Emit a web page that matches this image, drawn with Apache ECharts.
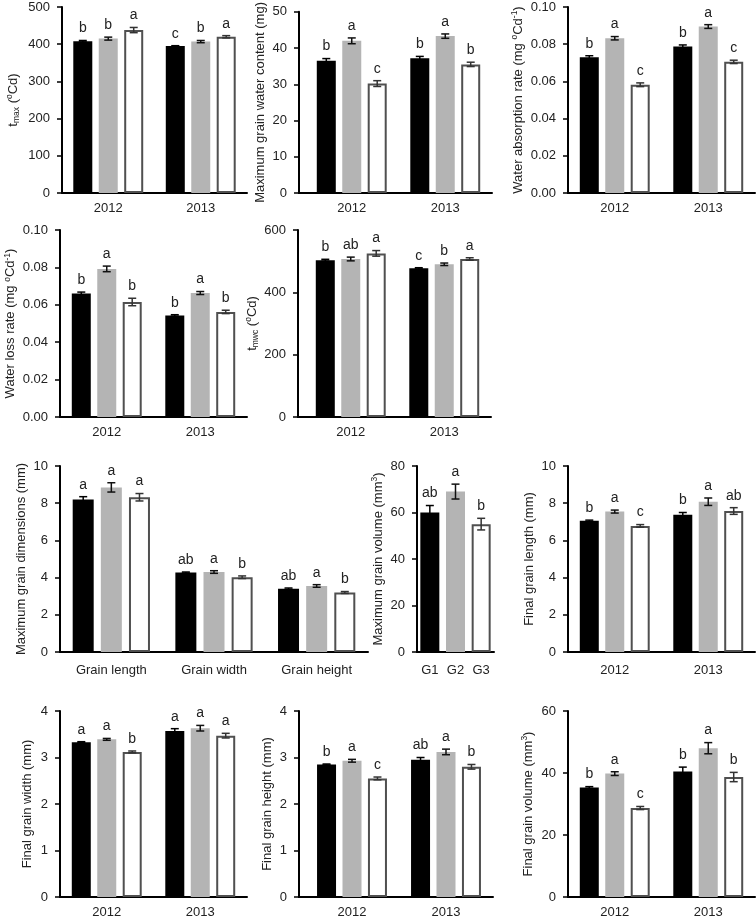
<!DOCTYPE html>
<html><head><meta charset="utf-8">
<script src="https://cdn.jsdelivr.net/npm/echarts@6/dist/echarts.min.js"></script>
<style>html,body{margin:0;padding:0;background:#fff}#c{width:756px;height:919px}</style>
</head><body><div id="c"></div>
<script>
// ---------- DATA (values per genotype G1, G2, G3; each listing the categories) ----------
const years = ['2012', '2013'];
const dims = ['Grain length', 'Grain width', 'Grain height'];
const genotypes = ['G1', 'G2', 'G3'];

const tmaxMean = [[408, 395], [415, 407], [438, 420]];
const tmaxErr = [[2, 1], [4, 3], [7, 3]];
const tmaxLetters = [['b', 'c'], ['b', 'b'], ['a', 'a']];

const mwcMean = [[36.5, 37.2], [42.0, 43.3], [30.2, 35.5]];
const mwcErr = [[0.6, 0.5], [0.8, 0.6], [0.8, 0.6]];
const mwcLetters = [['b', 'b'], ['a', 'a'], ['c', 'b']];

const absMean = [[0.0730, 0.0788], [0.0832, 0.0895], [0.0582, 0.0705]];
const absErr = [[0.0008, 0.0008], [0.0009, 0.0010], [0.0010, 0.0009]];
const absLetters = [['b', 'b'], ['a', 'a'], ['c', 'c']];

const lossMean = [[0.0660, 0.0543], [0.0792, 0.0663], [0.0615, 0.0562]];
const lossErr = [[0.0008, 0.0004], [0.0015, 0.0008], [0.0020, 0.0009]];
const lossLetters = [['b', 'b'], ['a', 'a'], ['b', 'b']];

const tmwcMean = [[503, 477], [507, 490], [525, 507]];
const tmwcErr = [[3, 2], [6, 4], [9, 4]];
const tmwcLetters = [['b', 'c'], ['ab', 'b'], ['a', 'a']];

const maxDimMean = [[8.20, 4.27, 3.40], [8.85, 4.30, 3.55], [8.32, 4.02, 3.20]];
const maxDimErr = [[0.15, 0.03, 0.04], [0.25, 0.07, 0.07], [0.20, 0.07, 0.05]];
const maxDimLetters = [['a', 'ab', 'ab'], ['a', 'a', 'a'], ['a', 'b', 'b']];

const maxVolMean = [60, 69, 55];
const maxVolErr = [3, 3.2, 2.5];
const maxVolLetters = ['ab', 'a', 'b'];

const lenMean = [[7.05, 7.38], [7.55, 8.08], [6.78, 7.58]];
const lenErr = [[0.04, 0.12], [0.08, 0.20], [0.07, 0.18]];
const lenLetters = [['b', 'b'], ['a', 'a'], ['c', 'ab']];

const widMean = [[3.33, 3.57], [3.39, 3.63], [3.12, 3.47]];
const widErr = [[0.01, 0.05], [0.02, 0.06], [0.02, 0.05]];
const widLetters = [['a', 'a'], ['a', 'a'], ['b', 'a']];

const hgtMean = [[2.85, 2.95], [2.93, 3.12], [2.55, 2.80]];
const hgtErr = [[0.01, 0.05], [0.03, 0.06], [0.03, 0.05]];
const hgtLetters = [['b', 'ab'], ['a', 'a'], ['c', 'b']];

const volMean = [[35.3, 40.5], [39.8, 48.0], [28.7, 38.7]];
const volErr = [[0.3, 1.4], [0.6, 1.8], [0.5, 1.5]];
const volLetters = [['b', 'b'], ['a', 'a'], ['c', 'b']];

// ---------- STYLE / LAYOUT ----------
const FONT = '"Liberation Sans", Arial, Helvetica, sans-serif';
const TXT = '#222';
const barStyles = [
  { color: '#000000' },
  { color: '#b4b4b4' },
  { color: '#ffffff', borderColor: '#505050', borderWidth: 2 }
];
const errColors = ['#000', '#111', '#333'];
const nameRich = {
  n: { fontSize: 13, lineHeight: 16, fontFamily: FONT, color: TXT },
  sub: { fontSize: 8.5, lineHeight: 8, verticalAlign: 'bottom', fontFamily: FONT, color: TXT },
  sup: { fontSize: 8.5, lineHeight: 8, verticalAlign: 'top', fontFamily: FONT, color: TXT }
};

const panels = [
  { grid: { left: 62, top: 7, width: 185, height: 186 }, cats: years, mean: tmaxMean, err: tmaxErr, letters: tmaxLetters,
    max: 500, interval: 100, dec: 0, name: '{n|t}{sub|max}{n| (}{sup|o}{n|Cd)}', nameGap: 41 },
  { grid: { left: 305, top: 7, width: 187, height: 186 }, yOff: 6, cats: years, mean: mwcMean, err: mwcErr, letters: mwcLetters,
    max: 50, interval: 10, dec: 0, name: '{n|Maximum grain water content (mg)}', nameGap: 26 },
  { grid: { left: 568, top: 7, width: 187, height: 186 }, cats: years, mean: absMean, err: absErr, letters: absLetters,
    max: 0.1, interval: 0.02, dec: 2, name: '{n|Water absorption rate (mg }{sup|o}{n|Cd}{sup|-1}{n|)}', nameGap: 42 },
  { grid: { left: 60, top: 230, width: 187, height: 187 }, cats: years, mean: lossMean, err: lossErr, letters: lossLetters,
    max: 0.1, interval: 0.02, dec: 2, name: '{n|Water loss rate (mg }{sup|o}{n|Cd}{sup|-1}{n|)}', nameGap: 41 },
  { grid: { left: 304, top: 230, width: 187, height: 187 }, yOff: 6, cats: years, mean: tmwcMean, err: tmwcErr, letters: tmwcLetters,
    max: 600, interval: 200, dec: 0, name: '{n|t}{sub|mwc}{n| (}{sup|o}{n|Cd)}', nameGap: 25 },
  { grid: { left: 60, top: 466, width: 308, height: 186 }, xMargin: 12, cats: dims, mean: maxDimMean, err: maxDimErr, letters: maxDimLetters,
    max: 10, interval: 2, dec: 0, name: '{n|Maximum grain dimensions (mm)}', nameGap: 26, barWidth: 21 },
  { grid: { left: 417, top: 466, width: 77, height: 186 }, xMargin: 12, single: true, cats: genotypes, mean: maxVolMean, err: maxVolErr, letters: maxVolLetters,
    max: 80, interval: 20, dec: 0, name: '{n|Maximum grain volume (mm}{sup|3}{n|)}', nameGap: 31 },
  { grid: { left: 568, top: 466, width: 187, height: 186 }, xMargin: 12, cats: years, mean: lenMean, err: lenErr, letters: lenLetters,
    max: 10, interval: 2, dec: 0, name: '{n|Final grain length (mm)}', nameGap: 27 },
  { grid: { left: 60, top: 711, width: 187, height: 186 }, cats: years, mean: widMean, err: widErr, letters: widLetters,
    max: 4, interval: 1, dec: 0, name: '{n|Final grain width (mm)}', nameGap: 25 },
  { grid: { left: 305, top: 711, width: 188, height: 186 }, yOff: 6, cats: years, mean: hgtMean, err: hgtErr, letters: hgtLetters,
    max: 4, interval: 1, dec: 0, name: '{n|Final grain height (mm)}', nameGap: 17 },
  { grid: { left: 568, top: 711, width: 187, height: 186 }, cats: years, mean: volMean, err: volErr, letters: volLetters,
    max: 60, interval: 20, dec: 0, name: '{n|Final grain volume (mm}{sup|3}{n|)}', nameGap: 32 }
];

const grids = [], xAxes = [], yAxes = [], series = [], graphics = [];

function errSeries(gi, meanArr, errArr, letterArr, offset, colorFn) {
  return {
    type: 'custom', xAxisIndex: gi, yAxisIndex: gi, z: 5, silent: true,
    data: meanArr.map((m, i) => [i, m, errArr[i]]),
    renderItem(params, api) {
      const ci = api.value(0), m = api.value(1), e = api.value(2);
      const t = api.coord([ci, m + e]);
      const b = api.coord([ci, m - e]);
      const x = t[0] + offset;
      const hw = 4;
      const st = { stroke: colorFn(params.dataIndex), lineWidth: 1.5, fill: null };
      return {
        type: 'group',
        children: [
          { type: 'line', shape: { x1: x, y1: t[1], x2: x, y2: b[1] }, style: st },
          { type: 'line', shape: { x1: x - hw, y1: t[1], x2: x + hw, y2: t[1] }, style: st },
          { type: 'line', shape: { x1: x - hw, y1: b[1], x2: x + hw, y2: b[1] }, style: st },
          { type: 'text', x: x, y: t[1] - 5,
            style: { text: letterArr[params.dataIndex], align: 'center', verticalAlign: 'bottom',
                     font: '14px ' + FONT, fill: TXT } }
        ]
      };
    }
  };
}

panels.forEach((p, gi) => {
  grids.push(Object.assign({ containLabel: false }, p.grid));
  xAxes.push({
    type: 'category', gridIndex: gi, data: p.cats,
    axisLine: { lineStyle: { color: '#000', width: 2 } },
    axisTick: { show: false },
    axisLabel: { color: TXT, fontSize: 13, fontFamily: FONT, margin: p.xMargin || 9, interval: 0 },
    splitLine: { show: false }
  });
  yAxes.push({
    type: 'value', gridIndex: gi, min: 0, max: p.max, interval: p.interval, offset: p.yOff || 0,
    name: p.name, nameLocation: 'middle', nameRotate: 90, nameGap: p.nameGap,
    nameTextStyle: { fontSize: 13, lineHeight: 16, fontFamily: FONT, color: TXT, rich: nameRich },
    axisLine: { show: true, lineStyle: { color: '#000', width: 2 } },
    axisTick: { show: true, length: 5, lineStyle: { color: '#000', width: 1.5 } },
    axisLabel: { color: TXT, fontSize: 13, fontFamily: FONT, margin: 12,
                 formatter: v => v.toFixed(p.dec) },
    splitLine: { show: false }
  });
  if (p.yOff) {
    const yb = p.grid.top + p.grid.height;
    graphics.push({ type: 'line', shape: { x1: p.grid.left - p.yOff - 1, y1: yb, x2: p.grid.left + 1, y2: yb },
                    style: { stroke: '#000', lineWidth: 2 } });
  }
  const bw = p.barWidth || 19;
  const gapRatio = 0.34;
  if (p.single) {
    series.push({
      type: 'bar', xAxisIndex: gi, yAxisIndex: gi, barWidth: bw,
      data: p.mean.map((v, i) => ({ value: v, itemStyle: barStyles[i] })),
      silent: true
    });
    series.push(errSeries(gi, p.mean, p.err, p.letters, 0, i => errColors[i]));
  } else {
    p.mean.forEach((arr, si) => {
      series.push({
        type: 'bar', xAxisIndex: gi, yAxisIndex: gi, barWidth: bw, barGap: (gapRatio * 100) + '%',
        data: arr, itemStyle: barStyles[si], silent: true
      });
    });
    p.mean.forEach((arr, si) => {
      const off = (si - 1) * bw * (1 + gapRatio);
      series.push(errSeries(gi, arr, p.err[si], p.letters[si], off, () => errColors[si]));
    });
  }
});

const chart = echarts.init(document.getElementById('c'), null, { renderer: 'canvas' });
chart.setOption({
  animation: false,
  backgroundColor: '#fff',
  textStyle: { fontFamily: FONT },
  grid: grids, xAxis: xAxes, yAxis: yAxes, series: series,
  graphic: graphics
});
</script>
</body></html>
